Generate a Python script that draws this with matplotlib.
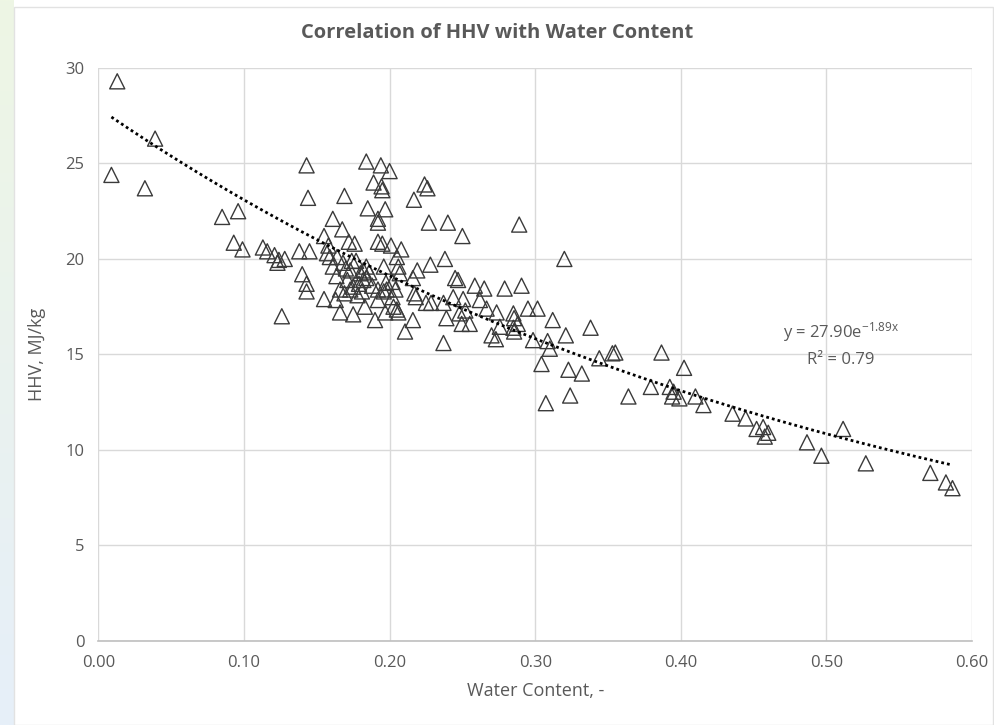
import numpy as np
import matplotlib.pyplot as plt
from matplotlib.colors import LinearSegmentedColormap
from matplotlib.patches import Rectangle

plt.rcParams['font.family'] = ['Open Sans', 'DejaVu Sans']
plt.rcParams['mathtext.fontset'] = 'custom'
plt.rcParams['mathtext.rm'] = 'Open Sans'
plt.rcParams['mathtext.it'] = 'Open Sans'

# water content (-) and HHV (MJ/kg)
water = [0.009, 0.013, 0.032, 0.039,
         0.085, 0.096, 0.093, 0.099,
         0.113, 0.116, 0.121, 0.124, 0.128, 0.123, 0.126,
         0.138, 0.145, 0.140, 0.143, 0.143, 0.143, 0.144,
         0.155, 0.155, 0.158, 0.157, 0.159, 0.161, 0.1675,
         0.164, 0.161, 0.1635, 0.163, 0.166, 0.166,
         0.169, 0.168, 0.170, 0.171, 0.173, 0.173, 0.175, 0.175, 0.172, 0.176,
         0.180, 0.182, 0.182, 0.183, 0.184, 0.184, 0.184, 0.185,
         0.189, 0.190, 0.192, 0.192, 0.192, 0.192, 0.192,
         0.194, 0.1945, 0.195, 0.195, 0.196, 0.196, 0.197, 0.197, 0.1975, 0.198,
         0.200, 0.201, 0.202, 0.202, 0.2027, 0.204,
         0.205, 0.205, 0.206, 0.206, 0.207, 0.208, 0.2106,
         0.216, 0.216, 0.2167, 0.217, 0.218, 0.219,
         0.224, 0.226, 0.225, 0.227, 0.228, 0.2285,
         0.237, 0.237, 0.238, 0.239, 0.240, 0.2437,
         0.245, 0.247, 0.248, 0.2495, 0.250, 0.2505, 0.252, 0.255,
         0.2585, 0.262, 0.265, 0.2666, 0.270, 0.273, 0.2735, 0.2757,
         0.279, 0.285, 0.2855, 0.2855, 0.285, 0.288, 0.289, 0.2906,
         0.295, 0.2985, 0.3016, 0.3043, 0.3073, 0.3085, 0.310, 0.312,
         0.320, 0.321, 0.3228, 0.324, 0.332, 0.338, 0.344, 0.353, 0.355,
         0.364, 0.3794, 0.3867, 0.3924, 0.394, 0.395, 0.399, 0.4022,
         0.410, 0.4155, 0.4355, 0.4445, 0.452, 0.4565, 0.4576, 0.460,
         0.4866, 0.4965, 0.5114, 0.527, 0.5713, 0.582, 0.5865,
         0.177, 0.179, 0.186, 0.188, 0.169, 0.178, 0.174, 0.181]
hhv = [24.4, 29.3, 23.7, 26.3,
       22.2, 22.5, 20.85, 20.5,
       20.6, 20.4, 20.2, 19.95, 20.0, 19.8, 17.0,
       20.4, 20.4, 19.2, 18.7, 18.3, 24.9, 23.2,
       17.9, 21.2, 20.7, 20.3, 20.1, 22.1, 21.55,
       20.1, 19.6, 19.1, 17.85, 17.2, 18.4,
       23.3, 19.8, 19.5, 18.9, 19.4, 18.4, 18.55, 17.1, 20.9, 20.8,
       19.25, 19.4, 18.9, 17.5, 19.6, 19.0, 25.1, 22.65,
       24.0, 16.8, 22.1, 21.9, 20.9, 18.4, 17.85,
       24.9, 23.8, 23.6, 20.8, 19.6, 18.3, 22.6, 17.2, 18.75, 18.4,
       24.6, 20.7, 18.0, 18.8, 17.5, 18.4,
       20.1, 17.35, 19.6, 17.2, 19.25, 20.5, 16.2,
       19.0, 16.8, 23.1, 18.2, 18.0, 19.4,
       23.9, 23.7, 17.7, 21.9, 19.7, 17.7,
       17.7, 15.6, 20.0, 16.9, 21.9, 18.0,
       19.0, 18.9, 17.15, 16.6, 21.2, 17.9, 17.3, 16.6,
       18.6, 17.85, 18.45, 17.4, 16.0, 15.8, 17.2, 16.45,
       18.45, 17.15, 16.9, 16.2, 16.4, 16.6, 21.8, 18.6,
       17.4, 15.75, 17.4, 14.5, 12.45, 15.7, 15.3, 16.8,
       20.0, 16.0, 14.2, 12.85, 14.0, 16.4, 14.8, 15.06, 15.1,
       12.8, 13.3, 15.1, 13.3, 12.8, 13.05, 12.7, 14.3,
       12.8, 12.35, 11.9, 11.65, 11.1, 11.2, 10.7, 10.9,
       10.4, 9.7, 11.1, 9.3, 8.8, 8.3, 8.0,
       19.9, 18.7, 19.3, 18.6, 18.2, 18.1, 19.9, 18.3]

fit_a = 27.90
fit_b = -1.89

x_ticks = [0.0, 0.1, 0.2, 0.3, 0.4, 0.5, 0.6]
y_ticks = [0, 5, 10, 15, 20, 25, 30]

grey = '#595959'

fig = plt.figure(figsize=(9.94, 7.25), dpi=100)

# faint tinted strip on the left edge and thin frame
strip = fig.add_axes([0, 0, 0.014, 1])
grad = np.linspace(0, 1, 256).reshape(-1, 1)
strip.imshow(grad, aspect='auto', origin='lower',
             cmap=LinearSegmentedColormap.from_list('edge', ['#e6eff9', '#eef6e4']))
strip.axis('off')
fig.patches.append(Rectangle((0.014, 0.0), 0.985, 0.99, transform=fig.transFigure,
                             fill=False, edgecolor='#e2e2e2', linewidth=1.0))

ax = fig.add_axes([0.0989, 0.1159, 0.8791, 0.7904])

ax.scatter(water, hhv, marker='^', s=118, facecolors='none',
           edgecolors='#3a3a3a', linewidths=1.0, zorder=3)

xf = np.linspace(min(water), max(water), 200)
ax.plot(xf, fit_a * np.exp(fit_b * xf), color='black', linestyle=(0, (1, 1.1)),
        linewidth=2.0, zorder=4)

ax.text(0.510, 16.15, r'y = 27.90e$^{\mathrm{-1.89x}}$', ha='center', va='center',
        fontsize=12, color=grey)
ax.text(0.510, 14.7, 'R² = 0.79', ha='center', va='center',
        fontsize=12, color=grey)

ax.set_xlim(0, 0.6)
ax.set_ylim(0, 30)
ax.set_xticks(x_ticks)
ax.set_yticks(y_ticks)
ax.set_xticklabels(['%.2f' % v for v in x_ticks])
ax.tick_params(length=0, colors=grey, labelsize=12, pad=10)
ax.grid(True, color='#d9d9d9', linewidth=1.0)
ax.set_axisbelow(True)
for s in ['top', 'right', 'left']:
    ax.spines[s].set_visible(False)
ax.spines['bottom'].set_color('#bfbfbf')
ax.spines['bottom'].set_linewidth(1.2)

ax.set_xlabel('Water Content, -', fontsize=13, color=grey, labelpad=8)
ax.set_ylabel('HHV, MJ/kg', fontsize=13, color=grey, labelpad=14)
fig.text(0.5, 0.955, 'Correlation of HHV with Water Content', ha='center',
         va='center', fontsize=14.5, fontweight='bold', color=grey)

fig.savefig('out.png', dpi=100)
